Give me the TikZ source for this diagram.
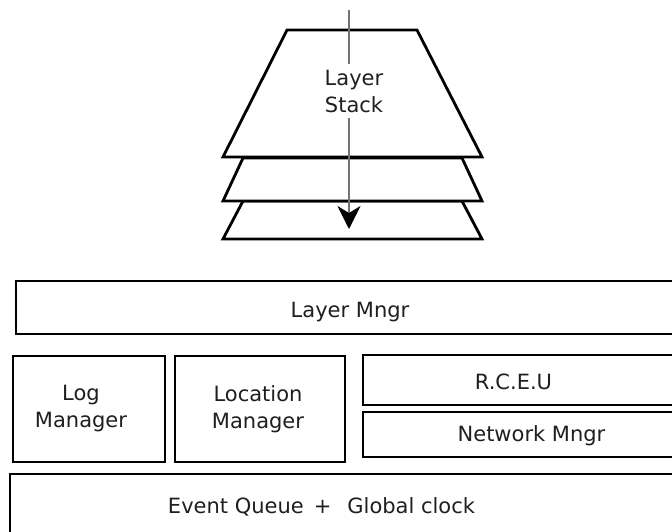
\documentclass[tikz,border=0pt]{standalone}
\usepackage{fontspec}
\setmainfont{DejaVu Sans}
\usetikzlibrary{arrows.meta}
\begin{document}
\begin{tikzpicture}[x=1pt,y=-1pt,
  box/.style={draw=black,line width=2.8pt,fill=white,rectangle,inner sep=0pt},
  lbl/.style={inner sep=0pt,font=\fontsize{21}{27}\selectfont,text=black!88},
  layer/.style={draw=black,line width=2.8pt,fill=white,line join=miter},
  flow/.style={draw=black!55,line width=1.8pt,-{Stealth[length=23pt,width=23pt,inset=7pt,color=black]}}]
\clip (0,0) rectangle (672,531);
\fill[white] (0,0) rectangle (672,531);
% layer stack (drawn back to front)
\draw[layer] (243,201) -- (462,201) -- (482,239) -- (223,239) -- cycle;
\draw[layer] (243,158) -- (462,158) -- (482,201) -- (223,201) -- cycle;
\draw[layer] (287,30) -- (417,30) -- (482,157) -- (223,157) -- cycle;
\coordinate (atop) at (349,10);
\coordinate (abot) at (349,229);
\draw[flow] (atop) -- (abot);
\node[lbl,fill=white,align=center,inner ysep=5.5pt,inner xsep=2pt] (stack) at (354,91) {Layer\\Stack};
% boxes
\node[box,minimum width=684pt,minimum height=53pt] (lmbox) at (358,307.5) {};
\node[box,minimum width=152pt,minimum height=106pt] (logbox) at (89,409) {};
\node[box,minimum width=170pt,minimum height=106pt] (locbox) at (260,409) {};
\node[box,minimum width=337pt,minimum height=50pt] (rcbox) at (531.5,380) {};
\node[box,minimum width=337pt,minimum height=45pt] (netbox) at (531.5,434.5) {};
\node[box,minimum width=690pt,minimum height=86pt] (evbox) at (355,517) {};
% labels
\node[lbl,anchor=base] (lm) at (350,317) {Layer Mngr};
\node[lbl,align=center] (log) at (81,409) {Log\\Manager};
\node[lbl,align=center] (loc) at (258,409) {Location\\Manager};
\node[lbl,anchor=base] (rc) at (513.5,389) {R.C.E.U};
\node[lbl,anchor=base] (net) at (531.5,441) {Network Mngr};
\node[lbl,anchor=base] (ev) at (321.5,513) {Event Queue\hspace{10pt}+\hspace{16pt}Global clock};
\end{tikzpicture}
\end{document}
